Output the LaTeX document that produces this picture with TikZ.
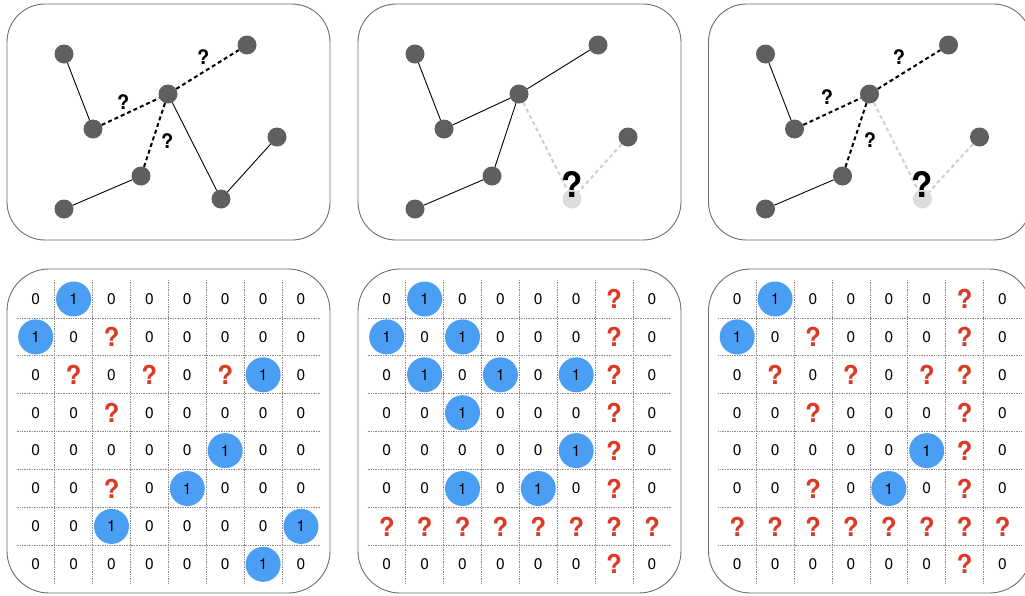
\documentclass[tikz,border=0pt]{standalone}
\usepackage{fontspec}
\setmainfont{TeX Gyre Heros}
\definecolor{nodegray}{HTML}{5F5F5F}
\definecolor{ghostgray}{HTML}{DCDCDC}
\definecolor{dashgray}{HTML}{CFCFCF}
\definecolor{boxgray}{HTML}{6E6E6E}
\definecolor{oneblue}{HTML}{4A9FF5}
\definecolor{qred}{HTML}{DA3B26}
\definecolor{gridgray}{HTML}{8A8A8A}
\tikzset{
  panelbox/.style={draw=boxgray, line width=0.9pt, rounded corners=38pt},
  matbox/.style={draw=boxgray, line width=0.9pt, rounded corners=42pt},
  gnode/.style={circle, fill=nodegray, minimum size=19pt, inner sep=0pt},
  ghost/.style={circle, fill=ghostgray, minimum size=19pt, inner sep=0pt},
  plainedge/.style={line width=0.9pt, black},
  qedge/.style={line width=2pt, black, dash pattern=on 4pt off 3pt},
  gedge/.style={line width=2pt, dashgray, dash pattern=on 4pt off 3pt},
  qlabel/.style={font=\fontsize{20}{22}\selectfont\bfseries, inner sep=0pt},
  bigq/.style={font=\fontsize{35}{38}\selectfont\bfseries, inner sep=0pt},
  zero/.style={font=\fontsize{15.5}{17}\selectfont, inner sep=0pt},
  one/.style={circle, fill=oneblue, minimum size=35pt, inner sep=0pt, font=\fontsize{15.5}{17}\selectfont},
  redq/.style={font=\fontsize{26}{28}\selectfont\bfseries, text=qred, inner sep=0pt},
  gridline/.style={gridgray, line width=0.7pt, densely dotted},
}
\newcommand\drawmatrix[3]{%
  \begin{scope}[xshift=#2pt]
    \draw[matbox] (7,269) rectangle (330,593);
    \foreach \k in {1,...,7} {
      \draw[gridline] (16.75+37.9*\k,280) -- (16.75+37.9*\k,583);
      \draw[gridline] (16.75,280+37.9*\k) -- (320,280+37.9*\k);
    }
    \foreach \row [count=\r] in {#3} {
      \foreach \v [count=\c] in \row {
        \pgfmathsetmacro\xx{35.7+37.9*(\c-1)}
        \pgfmathsetmacro\yy{299+37.9*(\r-1)}
        \ifcase\v\relax
          \node[zero] (#1-\r-\c) at (\xx,\yy) {0};
        \or
          \node[one] (#1-\r-\c) at (\xx,\yy) {1};
        \or
          \node[redq] (#1-\r-\c) at (\xx,\yy) {?};
        \fi
      }
    }
  \end{scope}
}
\begin{document}
\begin{tikzpicture}[x=1pt,y=-1pt]
\useasboundingbox (0,0) rectangle (1025,595);
\clip (0,0) rectangle (1025,595);
\fill[white] (0,0) rectangle (1025,595);

% ---------- panel 1 (top) ----------
\draw[panelbox] (7,4) rectangle (330,240);
\node[gnode] (p1a) at (64,54) {};
\node[gnode] (p1b) at (247,45) {};
\node[gnode] (p1c) at (168,94) {};
\node[gnode] (p1d) at (93,129) {};
\node[gnode] (p1e) at (277,137) {};
\node[gnode] (p1f) at (141,176) {};
\node[gnode] (p1g) at (64,209) {};
\node[gnode] (p1h) at (221,199) {};
\draw[plainedge] (p1a) -- (p1d);
\draw[plainedge] (p1c) -- (p1h);
\draw[plainedge] (p1h) -- (p1e);
\draw[plainedge] (p1g) -- (p1f);
\draw[qedge] (p1d) -- (p1c);
\draw[qedge] (p1c) -- (p1b);
\draw[qedge] (p1c) -- (p1f);
\node[qlabel] (p1q1) at (123.3,101.7) {?};
\node[qlabel] (p1q2) at (203.3,57.3) {?};
\node[qlabel] (p1q3) at (167.3,140.7) {?};

% ---------- panel 2 (top) ----------
\begin{scope}[xshift=351pt]
\draw[panelbox] (7,4) rectangle (330,240);
\node[gnode] (p2a) at (64,54) {};
\node[gnode] (p2b) at (247,45) {};
\node[gnode] (p2c) at (168,94) {};
\node[gnode] (p2d) at (93,129) {};
\node[gnode] (p2e) at (277,137) {};
\node[gnode] (p2f) at (141,176) {};
\node[gnode] (p2g) at (64,209) {};
\node[ghost] (p2h) at (221,199) {};
\draw[plainedge] (p2a) -- (p2d);
\draw[plainedge] (p2d) -- (p2c);
\draw[plainedge] (p2c) -- (p2b);
\draw[plainedge] (p2c) -- (p2f);
\draw[plainedge] (p2g) -- (p2f);
\draw[gedge] (p2c) -- (p2h);
\draw[gedge] (p2e) -- (p2h);
\node[bigq] (p2q) at (221,184) {?};
\end{scope}

% ---------- panel 3 (top) ----------
\begin{scope}[xshift=701.5pt]
\draw[panelbox] (7,4) rectangle (330,240);
\node[gnode] (p3a) at (64,54) {};
\node[gnode] (p3b) at (247,45) {};
\node[gnode] (p3c) at (168,94) {};
\node[gnode] (p3d) at (93,129) {};
\node[gnode] (p3e) at (278,137) {};
\node[gnode] (p3f) at (141,176) {};
\node[gnode] (p3g) at (64,209) {};
\node[ghost] (p3h) at (221,199) {};
\draw[plainedge] (p3a) -- (p3d);
\draw[plainedge] (p3g) -- (p3f);
\draw[qedge] (p3d) -- (p3c);
\draw[qedge] (p3c) -- (p3b);
\draw[qedge] (p3c) -- (p3f);
\draw[gedge] (p3c) -- (p3h);
\draw[gedge] (p3e) -- (p3h);
\node[qlabel] (p3q1) at (125.5,97) {?};
\node[qlabel] (p3q2) at (197.5,57) {?};
\node[qlabel] (p3q3) at (168.5,140) {?};
\node[bigq] (p3q) at (221,184) {?};
\end{scope}

% ---------- matrices ----------
\drawmatrix{ma}{0}{{0,1,0,0,0,0,0,0},{1,0,2,0,0,0,0,0},{0,2,0,2,0,2,1,0},{0,0,2,0,0,0,0,0},{0,0,0,0,0,1,0,0},{0,0,2,0,1,0,0,0},{0,0,1,0,0,0,0,1},{0,0,0,0,0,0,1,0}}
\drawmatrix{mb}{351}{{0,1,0,0,0,0,2,0},{1,0,1,0,0,0,2,0},{0,1,0,1,0,1,2,0},{0,0,1,0,0,0,2,0},{0,0,0,0,0,1,2,0},{0,0,1,0,1,0,2,0},{2,2,2,2,2,2,2,2},{0,0,0,0,0,0,2,0}}
\drawmatrix{mc}{701.5}{{0,1,0,0,0,0,2,0},{1,0,2,0,0,0,2,0},{0,2,0,2,0,2,2,0},{0,0,2,0,0,0,2,0},{0,0,0,0,0,1,2,0},{0,0,2,0,1,0,2,0},{2,2,2,2,2,2,2,2},{0,0,0,0,0,0,2,0}}
\end{tikzpicture}
\end{document}
